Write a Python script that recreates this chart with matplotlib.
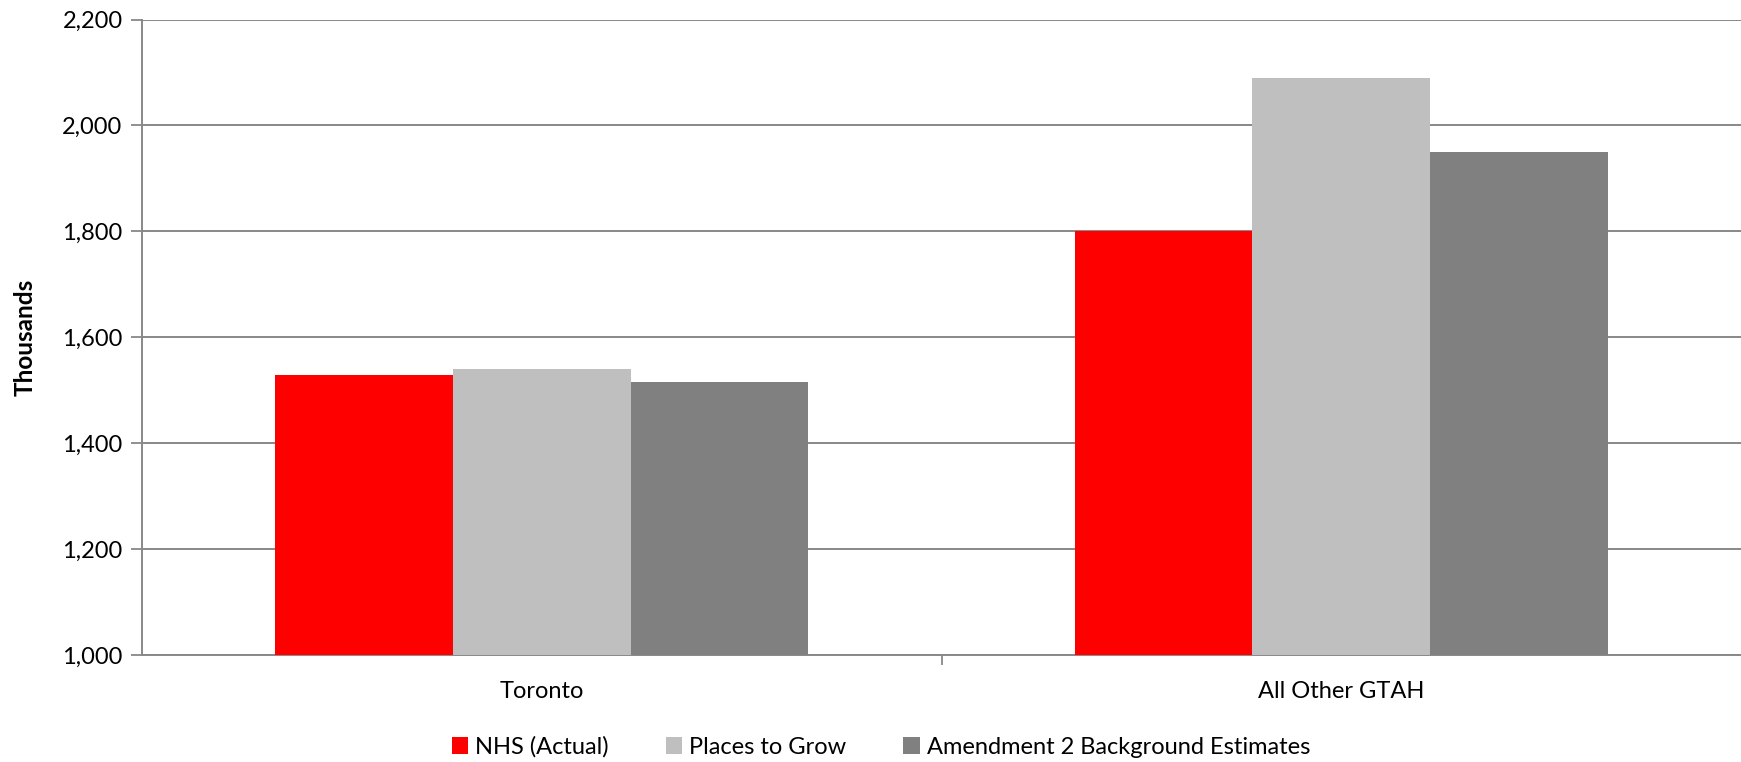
import matplotlib
matplotlib.use('Agg')
import matplotlib.pyplot as plt
import numpy as np

plt.rcParams['font.family'] = ['Lato', 'Open Sans', 'DejaVu Sans']

categories = ['Toronto', 'All Other GTAH']
series_names = ['NHS (Actual)', 'Places to Grow', 'Amendment 2 Background Estimates']
nhs_actual = [1528, 1800]
places_to_grow = [1540, 2090]
amendment_2 = [1515, 1950]
colors = ['#FF0000', '#BFBFBF', '#808080']
y_ticks = [1000, 1200, 1400, 1600, 1800, 2000, 2200]

fig = plt.figure(figsize=(17.41, 7.62), dpi=100)
ax = fig.add_axes([0.0816, 0.1404, 0.9184, 0.834])

x = np.arange(len(categories))
w = 1 / 4.5
for i, (vals, name) in enumerate(zip([nhs_actual, places_to_grow, amendment_2], series_names)):
    ax.bar(x + (i - 1) * w, vals, width=w, color=colors[i], label=name, zorder=3)

ax.set_xlim(-0.5, 1.5)
ax.set_ylim(1000, 2200)
ax.set_yticks(y_ticks)
ax.set_yticklabels([f'{v:,}' for v in y_ticks], fontsize=17)
ax.yaxis.grid(True, color='#888888', linewidth=1.4, zorder=0)
ax.tick_params(axis='y', length=8, color='#888888', width=1.3, pad=6)

ax.set_xticks(x)
ax.set_xticklabels(categories, fontsize=17)
ax.tick_params(axis='x', which='major', length=0, pad=19)
ax.set_xticks([0.5], minor=True)
ax.tick_params(axis='x', which='minor', length=7, color='#888888', width=1.3)

for s in ['top', 'right']:
    ax.spines[s].set_visible(False)
for s in ['left', 'bottom']:
    ax.spines[s].set_color('#888888')
    ax.spines[s].set_linewidth(1.4)

ax.set_ylabel('Thousands', fontsize=17.5, fontweight='bold')
ax.yaxis.set_label_coords(-0.066, 0.5)

fig.legend(loc='center', bbox_to_anchor=(0.506, 0.02), ncol=3, frameon=False,
           fontsize=17, handlelength=0.7, handleheight=0.7, handletextpad=0.3,
           columnspacing=2.4)

fig.savefig('out.png', dpi=100)
